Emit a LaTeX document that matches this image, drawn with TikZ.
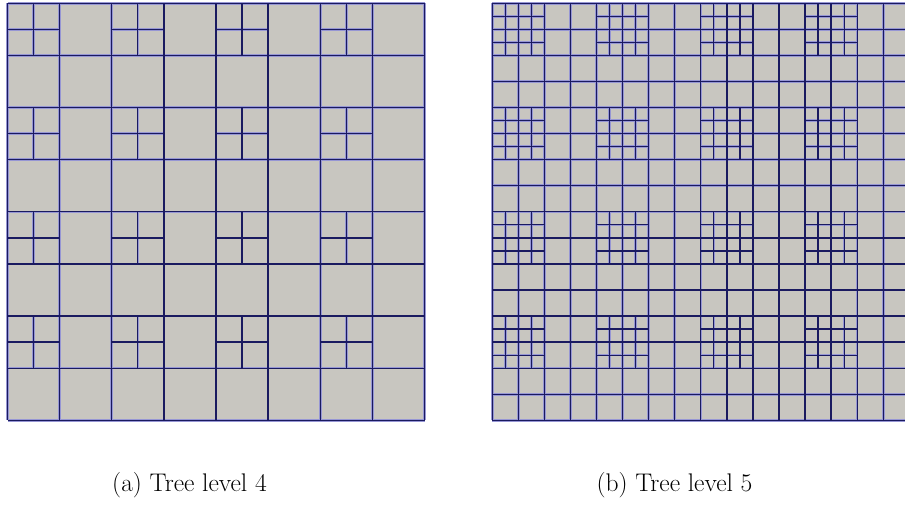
\documentclass[tikz,border=0pt]{standalone}
\usepackage{xcolor}
\definecolor{cellfill}{RGB}{200,198,192}
\definecolor{meshline}{RGB}{26,26,96}
\definecolor{meshhalo}{RGB}{150,150,212}
\begin{document}
\begin{tikzpicture}[x=1pt,y=-1pt,
  halo/.style={draw=meshhalo,line width=2.6pt},
  core/.style={draw=meshline,line width=1.3pt},
  caption/.style={font=\fontsize{25.5}{30}\selectfont,anchor=base,inner sep=0pt}]
\useasboundingbox (0,0) rectangle (905,504);
% ---------------- panel (a): tree level 4 ----------------
\def\ax{7.5}\def\ay{3.3}\def\ac{52.125}
\fill[cellfill] (\ax,\ay) rectangle ({\ax+8*\ac},{\ay+8*\ac});
\foreach \sty in {halo,core}{
  \foreach \i in {0,...,8}{
    \draw[\sty] ({\ax+\i*\ac},\ay) -- ({\ax+\i*\ac},{\ay+8*\ac});
    \draw[\sty] (\ax,{\ay+\i*\ac}) -- ({\ax+8*\ac},{\ay+\i*\ac});
  }
  \foreach \i in {0,2,4,6}{
    \foreach \j in {0,2,4,6}{
      \draw[\sty] ({\ax+(\i+0.5)*\ac},{\ay+\j*\ac}) -- ({\ax+(\i+0.5)*\ac},{\ay+(\j+1)*\ac});
      \draw[\sty] ({\ax+\i*\ac},{\ay+(\j+0.5)*\ac}) -- ({\ax+(\i+1)*\ac},{\ay+(\j+0.5)*\ac});
    }
  }
}
% ---------------- panel (b): tree level 5 ----------------
\def\bx{492.3}\def\by{3.3}\def\bc{26.0625}
\begin{scope}
\clip (\bx-3,0) rectangle (905,504);
\fill[cellfill] (\bx,\by) rectangle ({\bx+16*\bc},{\by+16*\bc});
\foreach \sty in {halo,core}{
  \foreach \i in {0,...,16}{
    \draw[\sty] ({\bx+\i*\bc},\by) -- ({\bx+\i*\bc},{\by+16*\bc});
    \draw[\sty] (\bx,{\by+\i*\bc}) -- ({\bx+16*\bc},{\by+\i*\bc});
  }
  \foreach \i in {0,4,8,12}{
    \foreach \j in {0,4,8,12}{
      \foreach \k in {0.5,1.5}{
        \draw[\sty] ({\bx+(\i+\k)*\bc},{\by+\j*\bc}) -- ({\bx+(\i+\k)*\bc},{\by+(\j+2)*\bc});
        \draw[\sty] ({\bx+\i*\bc},{\by+(\j+\k)*\bc}) -- ({\bx+(\i+2)*\bc},{\by+(\j+\k)*\bc});
      }
    }
  }
}
\end{scope}
% ---------------- captions ----------------
\node[caption] (capa) at (189.5,491.5) {(a) Tree level 4};
\node[caption] (capb) at (674.5,491.5) {(b) Tree level 5};
\end{tikzpicture}
\end{document}
